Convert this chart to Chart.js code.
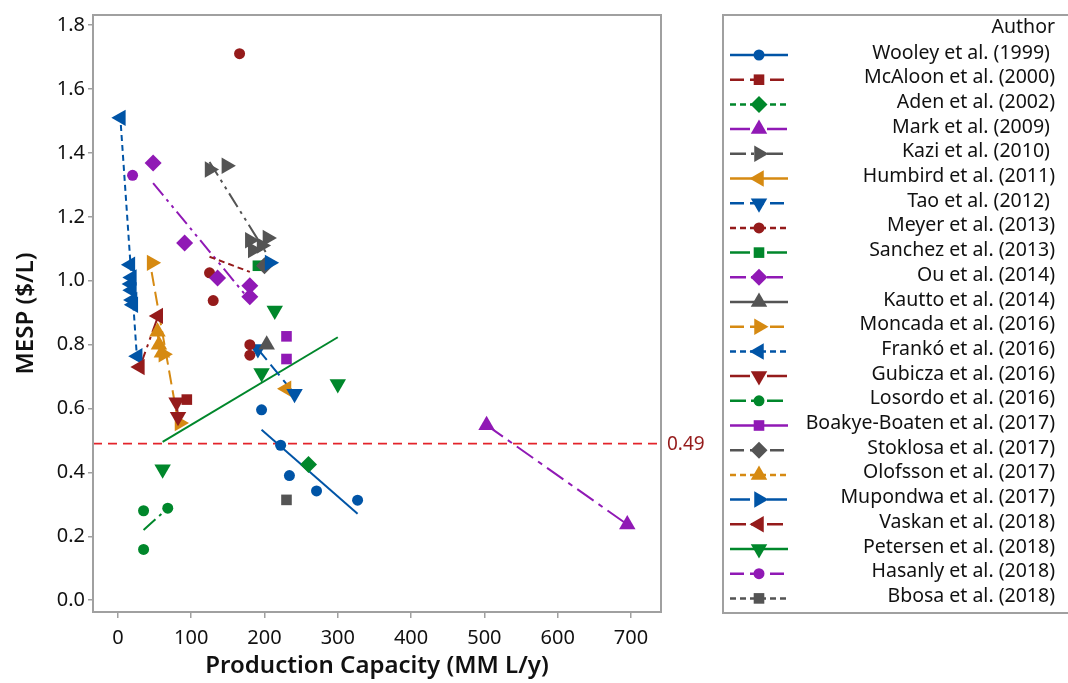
<!DOCTYPE html>
<html>
<head>
<meta charset="utf-8">
<script src="https://cdn.jsdelivr.net/npm/chart.js@4.4.0/dist/chart.umd.min.js"></script>
<style>
  html, body { margin: 0; padding: 0; background: #fff; }
  #wrap { width: 1068px; height: 683px; position: relative; }
</style>
</head>
<body>
<div id="wrap"><canvas id="mespChart" width="1068" height="683"></canvas></div>
<script>
// [production capacity (MM L/y), MESP ($/L)] per study
const wooley    = [[196, 0.596], [222, 0.485], [234, 0.39], [271, 0.342], [327, 0.313]];
const mcaloon   = [[94, 0.628]];
const aden      = [[260, 0.425]];
const mark      = [[503, 0.548], [695, 0.237]];
const kazi      = [[125, 1.348], [148, 1.36], [180, 1.127], [204, 1.134], [184, 1.096], [196, 1.11]];
const humbird   = [[230, 0.662]];
const tao       = [[191, 0.786], [241, 0.646]];
const meyer     = [[166, 1.711], [125, 1.025], [130, 0.938], [180, 0.80], [180, 0.767]];
const sanchez   = [[191, 1.047]];
const ou        = [[48, 1.369], [91, 1.118], [136, 1.009], [180, 0.984], [180, 0.95]];
const kautto    = [[203, 0.80]];
const moncada   = [[46, 1.056], [62, 0.77], [84, 0.555]];
const franko    = [[4, 1.51], [17, 1.05], [19, 1.01], [18, 0.99], [19, 0.97], [20, 0.94], [21, 0.925], [27, 0.764]];
const gubicza   = [[80, 0.62], [82, 0.574]];
const losordo   = [[35, 0.28], [68, 0.288], [35, 0.159]];
const boakye    = [[230, 0.826], [230, 0.755]];
const stoklosa  = [[200, 1.047]];
const olofsson  = [[54, 0.84], [56, 0.80], [60, 0.775]];
const mupondwa  = [[207, 1.056]];
const vaskan    = [[30, 0.73], [55, 0.89]];
const petersen  = [[61, 0.41], [214, 0.907], [196, 0.711], [300, 0.677]];
const hasanly   = [[20, 1.33]];
const bbosa     = [[230, 0.314]];

const authors = [
  'Wooley et al. (1999) ', 'McAloon et al. (2000)', 'Aden et al. (2002)', 'Mark et al. (2009) ',
  'Kazi et al. (2010) ', 'Humbird et al. (2011)', 'Tao et al. (2012) ', 'Meyer et al. (2013)',
  'Sanchez et al. (2013)', 'Ou et al. (2014)', 'Kautto et al. (2014)', 'Moncada et al. (2016)',
  'Frankó et al. (2016)', 'Gubicza et al. (2016)', 'Losordo et al. (2016)', 'Boakye-Boaten et al. (2017)',
  'Stoklosa et al. (2017)', 'Olofsson et al. (2017)', 'Mupondwa et al. (2017)', 'Vaskan et al. (2018)',
  'Petersen et al. (2018)', 'Hasanly et al. (2018)', 'Bbosa et al. (2018)'
];
const studies = [wooley, mcaloon, aden, mark, kazi, humbird, tao, meyer, sanchez, ou, kautto, moncada,
  franko, gubicza, losordo, boakye, stoklosa, olofsson, mupondwa, vaskan, petersen, hasanly, bbosa];

const xTicks = [0, 100, 200, 300, 400, 500, 600, 700];
const yTicks = [0.0, 0.2, 0.4, 0.6, 0.8, 1.0, 1.2, 1.4, 1.6, 1.8];
const targetMesp = 0.49;

// styling (Minitab-like group cycling)
const palette = ['#0054a6', '#951b1b', '#00872b', '#9019b5', '#545454', '#d68a12'];
const shapes = [
  { style: 'circle', rot: 0, r: 5.5 },
  { style: 'rect', rot: 0, r: 7.5 },
  { style: 'rectRot', rot: 0, r: 8.5 },
  { style: 'triangle', rot: 0, r: 9.5 },
  { style: 'triangle', rot: 90, r: 9.5 },
  { style: 'triangle', rot: -90, r: 9.5 },
  { style: 'triangle', rot: 180, r: 9.5 }
];
const dashes = [[], [14, 6], [6, 4], [20, 6, 5, 6], [16, 5, 3, 5, 3, 5]];
const fontFamily = '"Noto Sans", "Open Sans", sans-serif';

function fitLine(pts) {
  if (pts.length < 2) return [];
  const n = pts.length;
  const mx = pts.reduce((s, p) => s + p[0], 0) / n;
  const my = pts.reduce((s, p) => s + p[1], 0) / n;
  let sxx = 0, sxy = 0;
  pts.forEach(p => { sxx += (p[0] - mx) ** 2; sxy += (p[0] - mx) * (p[1] - my); });
  if (sxx === 0) return [];
  const b = sxy / sxx, a = my - b * mx;
  const lo = Math.min(...pts.map(p => p[0]));
  const hi = Math.max(...pts.map(p => p[0]));
  return [{ x: lo, y: a + b * lo }, { x: hi, y: a + b * hi }];
}

const datasets = [];
studies.forEach((pts, i) => {
  const color = palette[i % palette.length];
  const shp = shapes[i % shapes.length];
  datasets.push({
    label: authors[i],
    data: pts.map(p => ({ x: p[0], y: p[1] })),
    showLine: false,
    pointStyle: shp.style,
    rotation: shp.rot,
    pointRadius: shp.r,
    pointHoverRadius: shp.r,
    pointBackgroundColor: color,
    pointBorderColor: color,
    pointBorderWidth: 0,
    backgroundColor: color,
    borderColor: color,
    legendDash: dashes[i % dashes.length],
    order: 100 - i
  });
  datasets.push({
    label: authors[i] + ' fit',
    isFit: true,
    data: fitLine(pts),
    showLine: true,
    pointRadius: 0,
    borderColor: color,
    borderWidth: 2,
    borderDash: dashes[i % dashes.length],
    order: 1000 + i
  });
});

const frameAndLegend = {
  id: 'frameAndLegend',
  beforeDatasetsDraw(chart) {
    const { ctx, chartArea: a, scales } = chart;
    const y = scales.y.getPixelForValue(targetMesp);
    ctx.save();
    ctx.strokeStyle = '#e3242b';
    ctx.lineWidth = 1.6;
    ctx.setLineDash([9, 6]);
    ctx.beginPath();
    ctx.moveTo(a.left, y);
    ctx.lineTo(a.right, y);
    ctx.stroke();
    ctx.restore();
  },
  afterDraw(chart) {
    const { ctx, chartArea: a, scales } = chart;
    ctx.save();
    // plot frame
    ctx.strokeStyle = '#a0a0a0';
    ctx.lineWidth = 2;
    ctx.strokeRect(a.left, a.top, a.right - a.left, a.bottom - a.top);
    // reference value label
    ctx.fillStyle = '#951b1b';
    ctx.font = '19px ' + fontFamily;
    ctx.textAlign = 'left';
    ctx.textBaseline = 'middle';
    ctx.fillText(String(targetMesp), a.right + 6, scales.y.getPixelForValue(targetMesp) + 1);

    // legend box
    const lx = a.right + 62, top = a.top, bottom = a.bottom + 1;
    ctx.strokeRect(lx, top, 400, bottom - top);
    const textRight = 1055;
    ctx.fillStyle = '#111';
    ctx.textAlign = 'right';
    ctx.font = '19.5px ' + fontFamily;
    ctx.fillText('Author', textRight, top + 12);
    const pointSets = chart.data.datasets.filter(d => !d.isFit);
    pointSets.forEach((d, i) => {
      const y = top + 40 + i * 24.7;
      ctx.save();
      ctx.strokeStyle = d.borderColor;
      ctx.lineWidth = 2.5;
      ctx.setLineDash(d.legendDash);
      ctx.beginPath();
      ctx.moveTo(lx + 7, y);
      ctx.lineTo(lx + 65, y);
      ctx.stroke();
      ctx.setLineDash([]);
      ctx.fillStyle = d.backgroundColor;
      Chart.helpers.drawPoint(ctx, {
        pointStyle: d.pointStyle, rotation: d.rotation, radius: d.pointRadius, borderWidth: 0
      }, lx + 36, y);
      ctx.restore();
      ctx.fillStyle = '#111';
      ctx.fillText(d.label, textRight, y - 2);
    });
    ctx.restore();
  }
};

new Chart(document.getElementById('mespChart'), {
  type: 'scatter',
  data: { datasets },
  options: {
    responsive: false,
    animation: false,
    layout: { padding: { top: 10, right: 407, left: 0, bottom: 0 } },
    plugins: { legend: { display: false }, tooltip: { enabled: false } },
    scales: {
      x: {
        type: 'linear',
        min: -34,
        max: 741,
        afterFit(s) { s.height = 71; },
        afterBuildTicks(s) { s.ticks = xTicks.map(v => ({ value: v })); },
        ticks: { includeBounds: false, padding: 8, color: '#111', font: { family: fontFamily, size: 20 } },
        grid: { drawOnChartArea: false, drawTicks: true, tickLength: 6, color: '#a0a0a0', lineWidth: 1.5 },
        border: { display: false },
        title: {
          display: true, text: 'Production Capacity (MM L/y)', color: '#111',
          font: { family: fontFamily, size: 24, weight: '600' }, padding: { top: 0, bottom: 2 }
        }
      },
      y: {
        type: 'linear',
        min: -0.037,
        max: 1.832,
        afterFit(s) { s.width = 93; },
        afterBuildTicks(s) { s.ticks = yTicks.map(v => ({ value: v })); },
        ticks: {
          includeBounds: false, padding: 3, color: '#111', font: { family: fontFamily, size: 20 },
          callback: v => Number(v).toFixed(1)
        },
        grid: { drawOnChartArea: false, drawTicks: true, tickLength: 5, color: '#a0a0a0', lineWidth: 1.5 },
        border: { display: false },
        title: {
          display: true, text: 'MESP ($/L)', color: '#111',
          font: { family: fontFamily, size: 24, weight: '600' }, padding: { top: 12, bottom: 0 }
        }
      }
    }
  },
  plugins: [frameAndLegend]
});
</script>
</body>
</html>
